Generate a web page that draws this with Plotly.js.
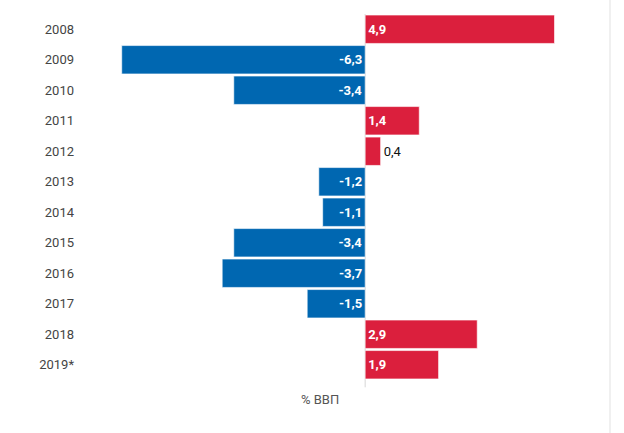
<!DOCTYPE html>
<html><head><meta charset="utf-8">
<script src="https://cdn.plot.ly/plotly-3.0.1.min.js"></script>
<style>html,body{margin:0;padding:0;background:#fff}#chart{width:624px;height:433px}</style>
</head><body><div id="chart"></div>
<script>
const years = ["2008","2009","2010","2011","2012","2013","2014","2015","2016","2017","2018","2019*"];
const balance = [4.9,-6.3,-3.4,1.4,0.4,-1.2,-1.1,-3.4,-3.7,-1.5,2.9,1.9];
const axisLabel = "% ВВП";
const RED = "#DB1F3D", BLUE = "#0067B1";

const colors = balance.map(v => v >= 0 ? RED : BLUE);
const positions = balance.map(v => Math.abs(v) < 1 ? "outside" : "inside");

const trace = {
  type: "bar", orientation: "h",
  y: years, x: balance,
  marker: {color: colors, line: {color: "rgba(255,255,255,0.6)", width: 1}},
  texttemplate: "%{x:.1f}",
  textposition: positions,
  insidetextanchor: "start",
  insidetextfont: {family: "Roboto", size: 13, color: "#ffffff", weight: "bold"},
  outsidetextfont: {family: "Roboto", size: 13, color: "#111111"},
  constraintext: "none",
  cliponaxis: false,
  hoverinfo: "skip"
};

const L = 114, W = 483;
const layout = {
  width: 624, height: 433,
  margin: {l: L, r: 624 - L - W, t: 14, b: 53},
  separators: ", ",
  bargap: 0.07,
  showlegend: false,
  paper_bgcolor: "#fff", plot_bgcolor: "#fff",
  font: {family: "Roboto", size: 13, color: "#444"},
  xaxis: {range: [-6.5, 6.0], visible: false, zeroline: false, showgrid: false, fixedrange: true},
  yaxis: {autorange: "reversed", type: "category", showgrid: false, zeroline: false,
          showline: false, ticks: "", ticklabelstandoff: 39,
          tickfont: {family: "Roboto", size: 13, color: "#444"}},
  shapes: [
    {type: "line", xref: "x", yref: "paper", x0: 0, x1: 0, y0: -0.02, y1: 1.0,
     line: {color: "#d6d6d6", width: 1}, layer: "below"},
    {type: "line", xref: "paper", yref: "paper", x0: (610 - L) / W, x1: (610 - L) / W,
     y0: -53 / 366, y1: 1 + 14 / 366, line: {color: "#f0f0f0", width: 2}}
  ],
  annotations: [
    {text: axisLabel, xref: "paper", yref: "paper", x: (320 - L) / W, y: -0.052,
     xanchor: "center", yanchor: "middle", showarrow: false,
     font: {family: "Roboto", size: 13, color: "#555"}}
  ]
};

Plotly.newPlot("chart", [trace], layout, {displayModeBar: false, staticPlot: true});
</script></body></html>
